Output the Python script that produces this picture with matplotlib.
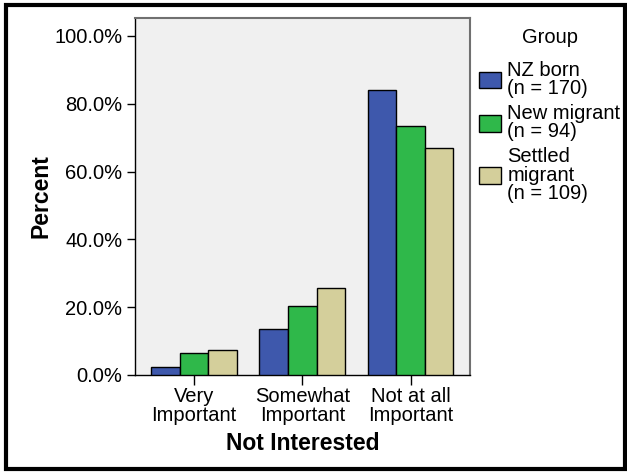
import matplotlib
matplotlib.use("Agg")
import matplotlib.pyplot as plt
import numpy as np
from matplotlib.patches import Rectangle, Patch

categories = ["Very\nImportant", "Somewhat\nImportant", "Not at all\nImportant"]
groups = ["NZ born\n(n = 170)", "New migrant\n(n = 94)", "Settled\nmigrant\n(n = 109)"]
nz_born = [2.35, 13.53, 84.12]
new_migrant = [6.38, 20.21, 73.40]
settled_migrant = [7.34, 25.69, 66.97]
yticks = [0, 20, 40, 60, 80, 100]

colors = ["#3e58ac", "#2fb84a", "#d4cf9b"]

plt.rcParams["font.family"] = ["Liberation Sans", "DejaVu Sans"]

fig = plt.figure(figsize=(6.27, 4.72), dpi=100)
W, H = 627, 472
ax = fig.add_axes([135 / W, 1 - 375 / H, (470 - 135) / W, (375 - 18) / H])
ax.set_facecolor("#f0f0f0")

x = np.arange(len(categories))
bw = 0.264
for k, (vals, c) in enumerate(zip([nz_born, new_migrant, settled_migrant], colors)):
    ax.bar(x + (k - 1) * bw, vals, width=bw, color=c, edgecolor="black", linewidth=1.0, zorder=3)

ax.set_xlim(-0.546, 2.549)
ax.set_ylim(0, 105.3)
ax.set_yticks(yticks)
ax.set_yticklabels([f"{v:.1f}%" for v in yticks], fontsize=14.5)
ax.set_xticks(x)
ax.set_xticklabels(categories, fontsize=14.5, linespacing=0.95)
ax.tick_params(axis="y", length=6, width=1, pad=3)
ax.tick_params(axis="x", length=7, width=1, pad=2)

for s in ["left", "bottom"]:
    ax.spines[s].set_color("black")
    ax.spines[s].set_linewidth(1.0)
for s in ["top", "right"]:
    ax.spines[s].set_color("#707070")
    ax.spines[s].set_linewidth(1.5)

ax.set_ylabel("Percent", fontsize=16.5, fontweight="bold", labelpad=1)
ax.set_xlabel("Not Interested", fontsize=16.5, fontweight="bold", labelpad=5)

handles = [Patch(facecolor=c, edgecolor="black", linewidth=1.0) for c in colors]
leg = fig.legend(handles, groups, loc="upper left", bbox_to_anchor=(479 / W, 1 - 28 / H),
                 frameon=False, fontsize=14.5, title="Group", title_fontsize=14.5,
                 handlelength=1.1, handleheight=0.9, handletextpad=0.3,
                 labelspacing=0.3, borderaxespad=0, borderpad=0)
leg._legend_box.sep = 10
for t in leg.get_texts():
    t.set_linespacing(0.95)

fig.add_artist(Rectangle((5.5 / W, 1 - 468.5 / H), (625 - 5.5) / W, (468.5 - 5) / H,
                         transform=fig.transFigure, fill=False, edgecolor="black", linewidth=3))

fig.savefig("out.png", dpi=100)
